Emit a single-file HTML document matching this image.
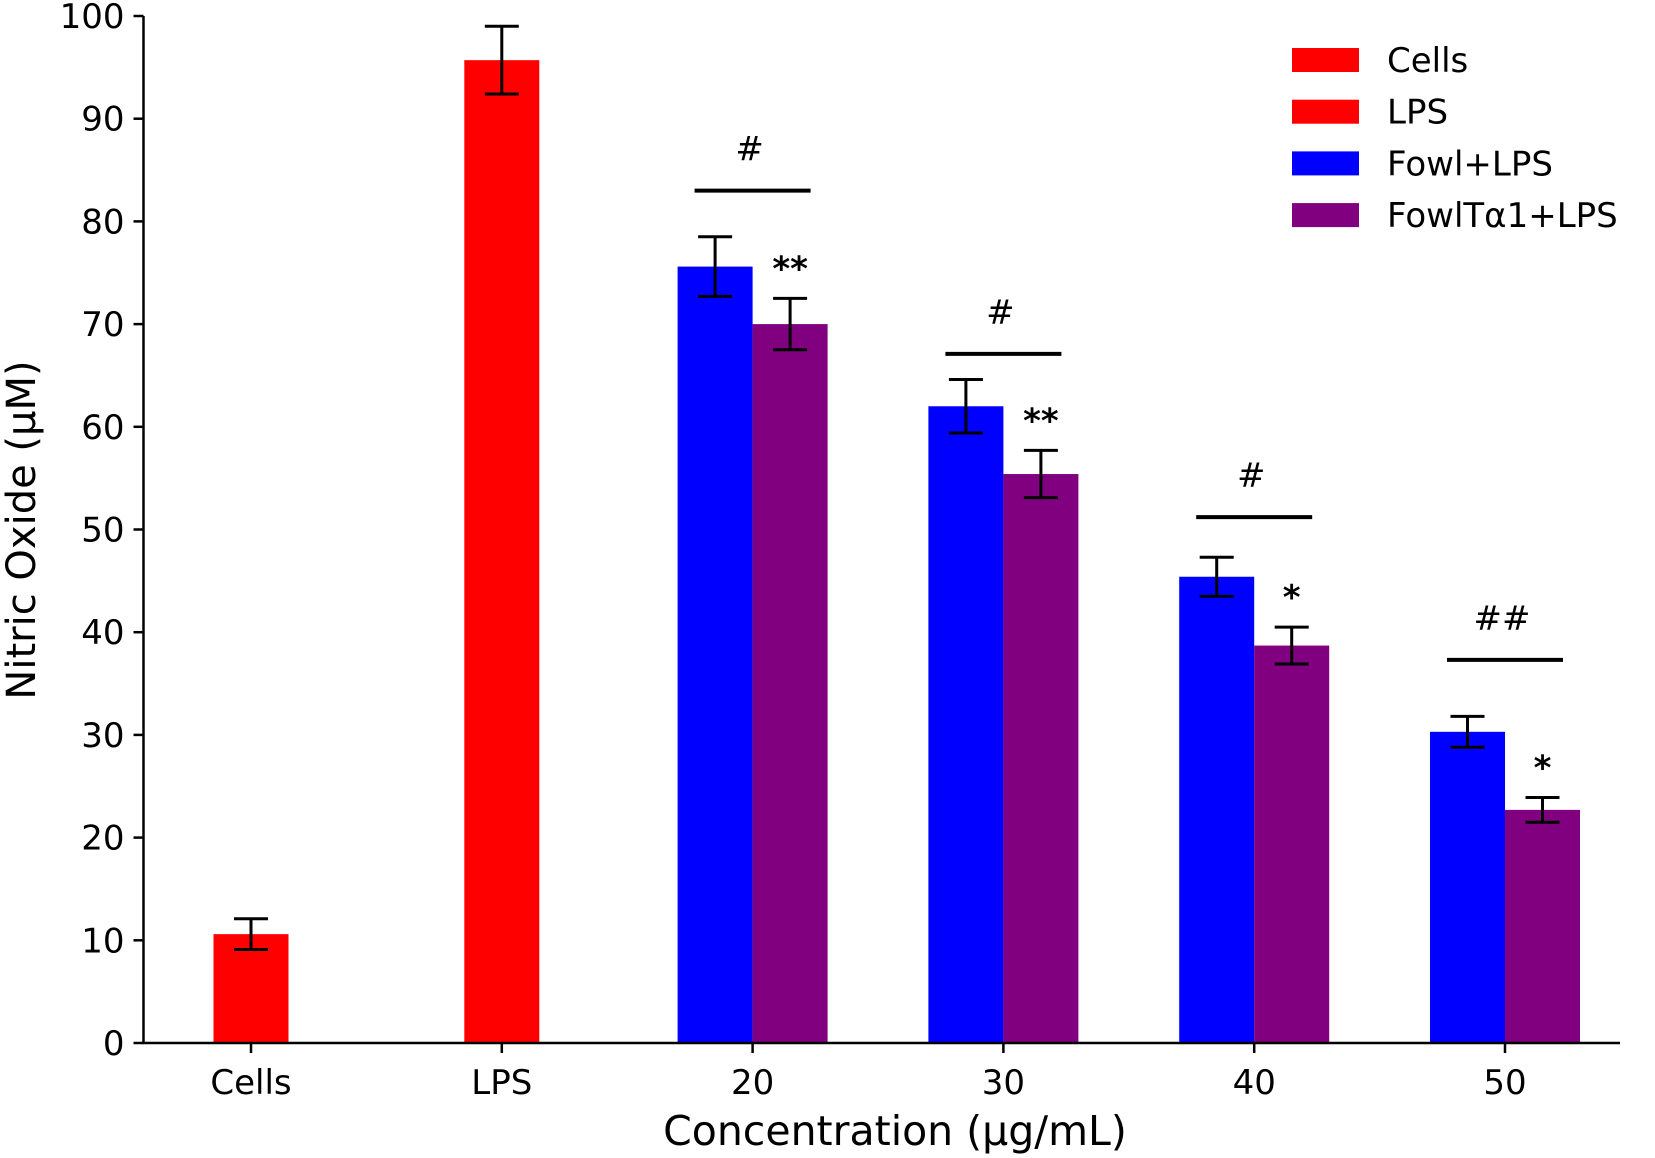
<!DOCTYPE html>
<html><head><meta charset="utf-8"><style>
html,body{margin:0;padding:0;background:#fff;}
svg{display:block;font-family:"DejaVu Sans","Liberation Sans",sans-serif;}
</style></head><body>
<svg id="chart" width="1655" height="1158" viewBox="0 0 1655 1158"></svg>
<script>
const categories = ["Cells","LPS","20","30","40","50"];
const controlValues = [10.6, 95.7];
const controlErrors = [1.5, 3.3];
const fowlValues = [75.6, 62.0, 45.4, 30.3];
const fowlErrors = [2.9, 2.6, 1.9, 1.5];
const fowlTValues = [70.0, 55.4, 38.7, 22.7];
const fowlTErrors = [2.5, 2.3, 1.8, 1.2];
const sigLineValues = [83.0, 67.1, 51.2, 37.3];
const sigLineLabels = ["#","#","#","##"];
const starLabels = ["**","**","*","*"];
const yTicks = [0,10,20,30,40,50,60,70,80,90,100];
const legendLabels = ["Cells","LPS","Fowl+LPS","FowlTα1+LPS"];
const legendColors = ["#ff0000","#ff0000","#0000ff","#800080"];

const NS="http://www.w3.org/2000/svg";
const svg=document.getElementById('chart');
const X0=143.5, X1=1620, Y0=1043, Ytop=16;
const BW=75;
function y(v){return Y0-(v/100)*(Y0-Ytop);}
function xc(i){return 251+i*250.8;}
function el(tag,attrs,parent){const e=document.createElementNS(NS,tag);for(const k in attrs)e.setAttribute(k,attrs[k]);(parent||svg).appendChild(e);return e;}
function txt(s,attrs){const t=el('text',attrs);t.textContent=s;return t;}
function errbar(cx,v,e,name){
  const g=el('g',{});
  
  
  el('line',{x1:cx,x2:cx,y1:y(v+e),y2:y(v-e),stroke:'#000','stroke-width':3},g);
  el('line',{x1:cx-17,x2:cx+17,y1:y(v+e),y2:y(v+e),stroke:'#000','stroke-width':3},g);
  el('line',{x1:cx-17,x2:cx+17,y1:y(v-e),y2:y(v-e),stroke:'#000','stroke-width':3},g);
}
function bar(x,v,color,name){
  const r=el('rect',{x:x,y:y(v),width:BW,height:Y0-y(v),fill:color});
  
  
}
controlValues.forEach((v,i)=>{
  bar(xc(i)-BW/2,v,'#ff0000','bar-'+categories[i].toLowerCase());
  errbar(xc(i),v,controlErrors[i],'error-bar-'+categories[i].toLowerCase());
});
fowlValues.forEach((v,i)=>{
  const c=xc(i+2);
  bar(c-BW,v,'#0000ff','bar-fowl-'+categories[i+2]);
  bar(c,fowlTValues[i],'#800080','bar-fowlt-'+categories[i+2]);
  errbar(c-BW/2,v,fowlErrors[i],'error-bar-fowl-'+categories[i+2]);
  errbar(c+BW/2,fowlTValues[i],fowlTErrors[i],'error-bar-fowlt-'+categories[i+2]);
  const l=el('line',{x1:c-58,x2:c+58,y1:y(sigLineValues[i]),y2:y(sigLineValues[i]),stroke:'#000','stroke-width':4});
  
  
  const h=txt(sigLineLabels[i],{x:c-3,y:y(sigLineValues[i])-30,'font-size':34,'text-anchor':'middle'});
  
  
  const s=txt(starLabels[i],{x:c+BW/2,y:y(fowlTValues[i]+fowlTErrors[i])-18,'font-size':34,'font-weight':'bold','text-anchor':'middle'});
  
  
});
const ya=el('line',{x1:X0,x2:X0,y1:Ytop,y2:Y0+1,stroke:'#000','stroke-width':2.5});

const xa=el('line',{x1:X0-1,x2:X1,y1:Y0,y2:Y0,stroke:'#000','stroke-width':2.5});

yTicks.forEach(t=>{
  el('line',{x1:X0-10,x2:X0,y1:y(t),y2:y(t),stroke:'#000','stroke-width':2.5});
  const l=txt(String(t),{x:X0-19,y:y(t)+12,'font-size':34,'text-anchor':'end'});
  
});
categories.forEach((c,i)=>{
  el('line',{x1:xc(i),x2:xc(i),y1:Y0,y2:Y0+10,stroke:'#000','stroke-width':2.5});
  const l=txt(c,{x:xc(i),y:1094,'font-size':34,'text-anchor':'middle'});
  
});
const xt=txt("Concentration (μg/mL)",{x:895,y:1145,'font-size':41,'text-anchor':'middle'});

const yt=txt("Nitric Oxide (μM)",{x:0,y:0,'font-size':40,'text-anchor':'middle',transform:'translate(35,530) rotate(-90)'});

legendLabels.forEach((s,i)=>{
  const cy=60+i*51.7;
  const r=el('rect',{x:1292,y:cy-12,width:67,height:24,fill:legendColors[i]});
  
  const t=txt(s,{x:1387,y:cy+12,'font-size':34});
  
});
</script>
</body></html>
